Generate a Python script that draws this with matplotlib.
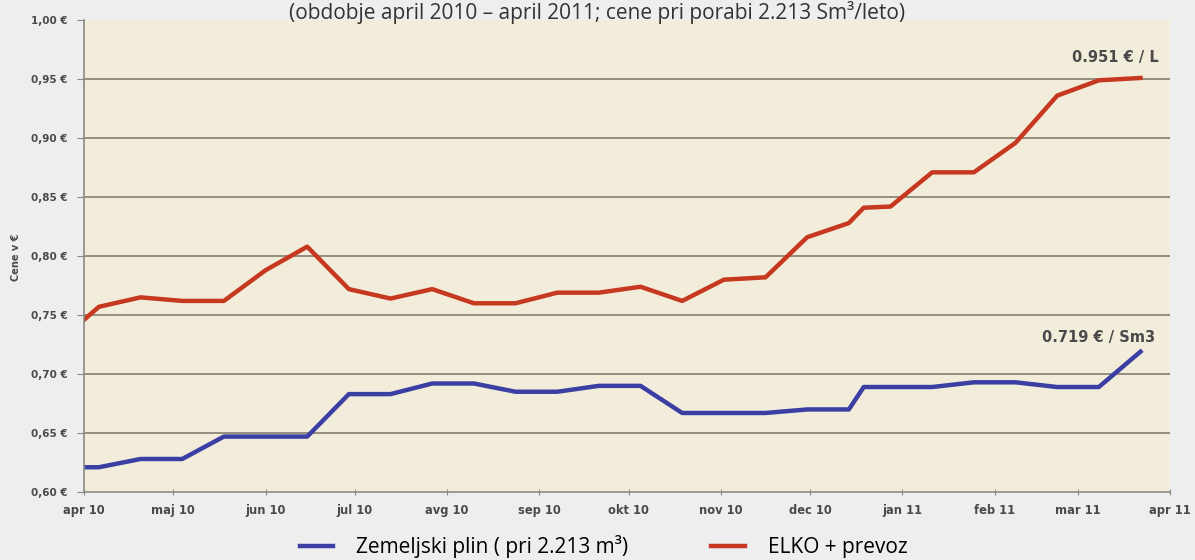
import matplotlib
matplotlib.use('Agg')

import matplotlib.pyplot as plt
from matplotlib.lines import Line2D
import numpy as np

LABEL_COLOR = '#4a4a4a'
GRID_COLOR = '#8c8676'

dates = ['2010-04-01', '2010-04-06', '2010-04-20', '2010-05-04', '2010-05-18',
         '2010-06-01', '2010-06-15', '2010-06-29', '2010-07-13', '2010-07-27',
         '2010-08-10', '2010-08-24', '2010-09-07', '2010-09-21', '2010-10-05',
         '2010-10-19', '2010-11-02', '2010-11-16', '2010-11-30', '2010-12-14',
         '2010-12-19', '2010-12-28', '2011-01-11', '2011-01-25', '2011-02-08',
         '2011-02-22', '2011-03-08', '2011-03-22']

plin = [0.621, 0.621, 0.628, 0.628, 0.647, 0.647, 0.647, 0.683, 0.683, 0.692,
        0.692, 0.685, 0.685, 0.690, 0.690, 0.667, 0.667, 0.667, 0.670, 0.670,
        0.689, 0.689, 0.689, 0.693, 0.693, 0.689, 0.689, 0.719]

elko = [0.746, 0.757, 0.765, 0.762, 0.762, 0.788, 0.808, 0.772, 0.764, 0.772,
        0.760, 0.760, 0.769, 0.769, 0.774, 0.762, 0.780, 0.782, 0.816, 0.828,
        0.841, 0.842, 0.871, 0.871, 0.896, 0.936, 0.949, 0.951]

month_labels = ['apr 10', 'maj 10', 'jun 10', 'jul 10', 'avg 10', 'sep 10', 'okt 10',
                'nov 10', 'dec 10', 'jan 11', 'feb 11', 'mar 11', 'apr 11']
y_ticks = [0.60, 0.65, 0.70, 0.75, 0.80, 0.85, 0.90, 0.95, 1.00]

title = '(obdobje april 2010 \u2013 april 2011; cene pri porabi 2.213 Sm\u00b3/leto)'
plin_name = 'Zemeljski plin ( pri 2.213 m\u00b3)'
elko_name = 'ELKO + prevoz'
plin_note = '0.719 \u20ac / Sm3'
elko_note = '0.951 \u20ac / L'

x = np.array(dates, dtype='datetime64[D]')

fig = plt.figure(figsize=(11.95, 5.6), dpi=100)
fig.patch.set_facecolor('#eeeeee')
ax = fig.add_axes([0.0703, 0.1214, 0.909, 0.8426])
ax.set_facecolor('#f2eddb')

ax.plot(x, plin, color='#3b3fa3', lw=3.2, solid_joinstyle='round')
ax.plot(x, elko, color='#c63820', lw=3.2, solid_joinstyle='round')

ax.set_ylim(0.60, 1.00)
ax.set_xlim(np.datetime64('2010-04-01'), np.datetime64('2011-04-01'))

month_ticks = np.arange('2010-04', '2011-05', dtype='datetime64[M]').astype('datetime64[D]')
ax.set_xticks(month_ticks)
ax.set_xticklabels(month_labels)
ax.set_yticks(y_ticks)
ax.set_yticklabels(['{:.2f} \u20ac'.format(v).replace('.', ',') for v in y_ticks])

for v in y_ticks[1:-1]:
    ax.axhline(v, color=GRID_COLOR, lw=1.3, zorder=0)

for s in ['top', 'right']:
    ax.spines[s].set_visible(False)
for s in ['left', 'bottom']:
    ax.spines[s].set_color('#8a8a8a')
    ax.spines[s].set_linewidth(1.2)

ax.tick_params(axis='y', length=5, color='#8a8a8a', labelsize=7.5,
               labelcolor=LABEL_COLOR, pad=7)
ax.tick_params(axis='x', length=5, direction='inout', color='#8a8a8a',
               labelsize=8.3, labelcolor=LABEL_COLOR, pad=6)
for lab in ax.get_xticklabels() + ax.get_yticklabels():
    lab.set_fontweight('bold')

fig.text(0.013, 0.541, 'Cene v \u20ac', rotation=90, fontsize=7, fontweight='bold',
         color=LABEL_COLOR, ha='center', va='center')

ax.annotate(elko_note, (x[-1], elko[-1]), xytext=(-18, 15), textcoords='offset points',
            ha='center', va='center', fontsize=10.5, fontweight='bold', color=LABEL_COLOR)
ax.annotate(plin_note, (x[-1], plin[-1]), xytext=(-30, 10.5), textcoords='offset points',
            ha='center', va='center', fontsize=10.5, fontweight='bold', color=LABEL_COLOR)

fig.text(0.5, 0.998, title, ha='center', va='top', fontsize=15, color='#333333',
         family='Open Sans')

handles = [Line2D([], [], color='#3b3fa3', lw=3.2),
           Line2D([], [], color='#c63820', lw=3.2)]
fig.legend(handles, [plin_name, elko_name], loc='lower center', ncol=2,
           bbox_to_anchor=(0.505, -0.03), frameon=False, handlelength=1.6,
           handletextpad=1.1, columnspacing=4.0,
           prop={'family': 'Open Sans', 'size': 15})

fig.savefig('out.png', dpi=100, facecolor=fig.get_facecolor())
